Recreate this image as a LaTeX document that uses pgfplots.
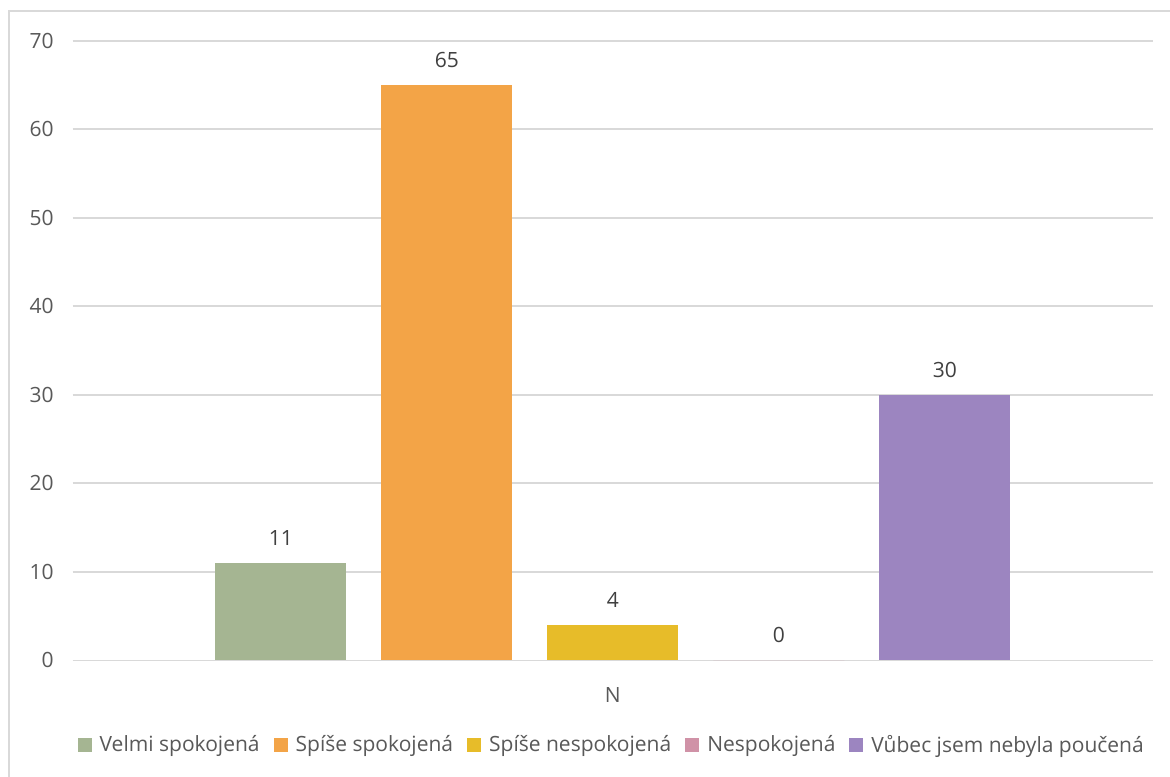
\documentclass[border=0pt]{standalone}
\usepackage{pgfplots}
\pgfplotsset{compat=1.18}
\usepackage{fontspec}
\setmainfont{Open Sans}
\definecolor{txt}{HTML}{595959}
\definecolor{gridc}{HTML}{D9D9D9}
\definecolor{cA}{HTML}{A5B592}
\definecolor{cB}{HTML}{F3A447}
\definecolor{cC}{HTML}{E7BC29}
\definecolor{cD}{HTML}{D092A7}
\definecolor{cE}{HTML}{9C85C0}
\begin{document}
\begin{tikzpicture}
\path[use as bounding box] (-36.35pt,-57.85pt) rectangle (548.65pt,330.15pt);
\draw[gridc, line width=0.8pt] (-31.85pt,-70pt) -- (-31.85pt,324.65pt) -- (560pt,324.65pt);
\begin{axis}[
  at={(0pt,0pt)}, anchor=south west,
  scale only axis, width=540pt, height=309.8pt,
  xmin=-1.255, xmax=5.253, ymin=0, ymax=70,
  ybar, bar width=65.5pt,
  ytick={0,10,...,70},
  xtick={2}, xticklabels={N},
  ymajorgrids, grid style={gridc, line width=0.8pt},
  axis line style={draw=none}, tick style={draw=none},
  /pgf/number format/assume math mode=true,
  ticklabel style={font=\fontsize{10.5}{13}\selectfont, text=txt},
  yticklabel style={xshift=-6pt},
  xticklabel style={yshift=-6pt},
  nodes near coords,
  every node near coord/.append style={font=\fontsize{10.5}{13}\selectfont, text=black!75, inner sep=0pt, yshift=8.5pt, /pgf/number format/assume math mode=true},
  legend style={at={(0.5,-0.137)}, anchor=center, draw=none, legend columns=5,
    font=\fontsize{10.5}{13}\selectfont, text=txt,
    /tikz/every odd column/.append style={column sep=2pt},
    /tikz/every even column/.append style={column sep=5pt},
    nodes={inner xsep=2pt}},
  legend image code/.code={\fill[#1] (0pt,-3.5pt) rectangle (7pt,3.5pt);},
  legend cell align=left,
]
\addplot[fill=cA, draw=none, bar shift=0pt] coordinates {(0,11)};
\addplot[fill=cB, draw=none, bar shift=0pt] coordinates {(1,65)};
\addplot[fill=cC, draw=none, bar shift=0pt] coordinates {(2,4)};
\addplot[fill=cD, draw=none, bar shift=0pt] coordinates {(3,0)};
\addplot[fill=cE, draw=none, bar shift=0pt] coordinates {(4,30)};
\legend{Velmi spokojená, Spíše spokojená, Spíše nespokojená, Nespokojená, Vůbec jsem nebyla poučená}
\end{axis}
\end{tikzpicture}
\end{document}
